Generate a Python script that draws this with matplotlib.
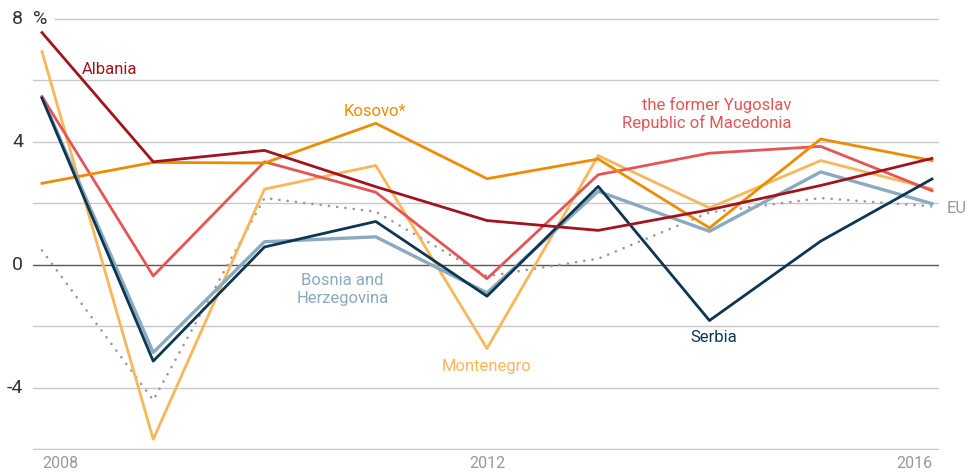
import numpy as np
import matplotlib.pyplot as plt

plt.rcParams['font.family'] = ['Roboto', 'DejaVu Sans']

years = [2008, 2009, 2010, 2011, 2012, 2013, 2014, 2015, 2016]

eu = [0.47, -4.4, 2.17, 1.73, -0.37, 0.2, 1.7, 2.17, 1.9]
montenegro = [6.93, -5.67, 2.46, 3.23, -2.72, 3.55, 1.85, 3.39, 2.47]
bosnia = [5.45, -2.85, 0.75, 0.91, -0.91, 2.39, 1.09, 3.02, 1.99]
macedonia = [5.47, -0.36, 3.35, 2.36, -0.45, 2.93, 3.63, 3.85, 2.41]
kosovo = [2.65, 3.33, 3.31, 4.6, 2.8, 3.44, 1.2, 4.09, 3.39]
serbia = [5.42, -3.13, 0.58, 1.41, -1.02, 2.55, -1.81, 0.77, 2.79]
albania = [7.55, 3.35, 3.72, 2.54, 1.44, 1.12, 1.79, 2.58, 3.46]

grid_vals = [8, 6, 4, 2, -2, -4, -6]
ytick_vals = [8, 4, 0, -4]
xtick_vals = [2008, 2012, 2016]

fig = plt.figure(figsize=(9.7, 4.73), dpi=100)
ax = fig.add_axes([0.034, 0.0486, 0.934, 0.915])
ax.set_xlim(2007.919, 2016.063)
ax.set_ylim(-6.02, 8.05)
for s in ax.spines.values():
    s.set_visible(False)
ax.set_xticks([])
ax.set_yticks([])

for g in grid_vals:
    xmin = 0.024 if g == 8 else 0.0
    ax.axhline(g, xmin=xmin, color='#c8c8c8', lw=1.0, zorder=0)
ax.axhline(0, color='#555555', lw=1.0, zorder=1)

# EU as round dots
ax.plot(years, eu, color='#9a9a9a', lw=1.9, ls=(0, (0.05, 3.1)),
        dash_capstyle='round', zorder=2)
lw = 2.0
ax.plot(years, montenegro, color='#f9b65a', lw=lw, zorder=3)
ax.plot(years, bosnia, color='#89aabf', lw=lw + 0.4, zorder=4)
ax.plot(years, macedonia, color='#e65555', lw=lw, zorder=5)
ax.plot(years, kosovo, color='#ee8c00', lw=lw, zorder=6)
ax.plot(years, serbia, color='#0c3652', lw=lw, zorder=7)
ax.plot(years, albania, color='#a0141e', lw=lw, zorder=8)

fs = 12
ax.text(2008.36, 6.34, 'Albania', color='#a0141e', fontsize=fs, va='center')
ax.text(2010.71, 4.97, 'Kosovo*', color='#ee8c00', fontsize=fs, va='center')
ax.text(2014.74, 4.9, 'the former Yugoslav\nRepublic of Macedonia', color='#e65555',
        fontsize=fs, ha='right', va='center', linespacing=1.2)
ax.text(2010.7, -0.8, 'Bosnia and\nHerzegovina', color='#89aabf',
        fontsize=fs, ha='center', va='center', linespacing=1.2)
ax.text(2012.0, -3.3, 'Montenegro', color='#f9b65a', fontsize=fs,
        ha='center', va='center')
ax.text(2014.04, -2.36, 'Serbia', color='#0c3652', fontsize=fs,
        ha='center', va='center')
ax.text(2016.13, 1.84, 'EU', color='#999999', fontsize=fs, va='center',
        clip_on=False)

for v in ytick_vals:
    lab = str(v) if v >= 0 else '-' + str(-v)
    ax.text(2007.83, v, lab, color='#333333', fontsize=14, ha='right',
            va='center', clip_on=False)
ax.text(2007.92, 8, '%', color='#333333', fontsize=14, ha='left',
        va='center', clip_on=False)

aligns = ['left', 'center', 'right']
for x, ha in zip(xtick_vals, aligns):
    ax.text(x, -6.45, str(x), color='#999999', fontsize=11.5, ha=ha,
            va='center', clip_on=False)

fig.savefig('out.png', dpi=100)
